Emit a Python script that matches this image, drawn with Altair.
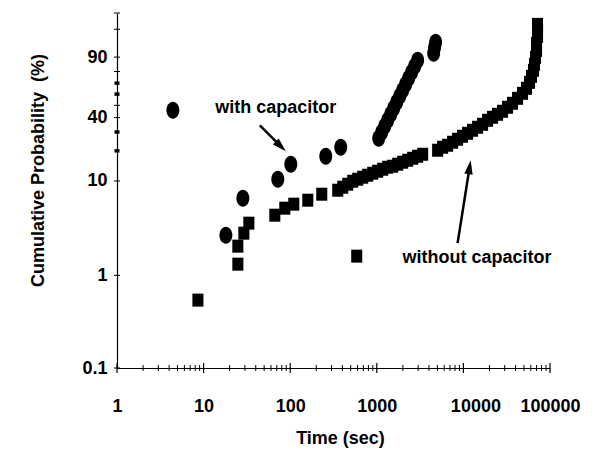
import math
import altair as alt
import pandas as pd

# ---------------- data ----------------
# "with capacitor" (ellipse markers)
with_time = [4.42, 18.08, 28.4, 71.9, 101.6, 257.4, 383.3,
             1052, 1139, 1234, 1336, 1447, 1567, 1697, 1837, 1990, 2154, 2333, 2526, 2736, 2963,
             4779, 4655, 4533]
with_prob = [45.8, 2.69, 6.63, 10.42, 14.78, 17.72, 21.66,
             26.31, 29.84, 33.73, 37.98, 42.56, 47.47, 52.64, 58.01, 63.49, 68.95, 74.28, 79.33, 83.96, 88.06,
             96.40, 94.69, 92.03]

# "without capacitor" (square markers)
without_time = [8.60, 24.86, 24.86, 29.16, 33.31, 66.43, 86.63, 110.0, 159.6, 231.5, 586.5,
                354.0, 404.3, 461.7, 527.2, 602.0, 687.6, 785.2, 896.7, 1024, 1170, 1336, 1525,
                1742, 1990, 2272, 2595, 2963, 3384,
                5040, 5756, 6574, 7506, 8573, 9790, 11180, 12770, 14580, 16660, 19020, 21720,
                24800, 28320, 32350, 36940, 42190, 48180, 53580, 58020, 61180, 64520, 66250,
                68050, 69880, 69880, 71760, 71760, 71760]
without_prob = [0.541, 1.319, 2.058, 2.832, 3.618, 4.396, 5.212, 5.742, 6.321, 7.299, 1.608,
                8.031, 8.625, 9.264, 9.941, 10.42, 10.93, 11.45, 12.00, 12.57, 13.17, 13.79, 14.11,
                14.78, 15.47, 16.19, 16.94, 17.72, 18.53,
                20.27, 21.65, 22.62, 24.15, 25.75, 27.44, 29.23, 31.10, 33.06, 35.10, 37.98, 40.23,
                42.56, 44.99, 48.32, 51.77, 56.21, 60.74, 65.32, 70.75, 76.00, 80.93, 85.40,
                89.87, 93.44, 96.10, 97.89, 98.87, 99.45]

# axis ticks / labels
y_label_values = [0.1, 1, 10, 40, 90]
y_tick_values = [0.1, 1, 10, 40, 50, 80, 90, 99, 99.9]
y_thick_ticks = [20, 30, 60, 70]
x_label_values = [1, 10, 100, 1000, 10000, 100000]
x_decades = [1, 10, 100, 1000, 10000]
x_minor_ticks = [m * d for d in x_decades for m in range(2, 10)]

# annotations
annot_text = ["with capacitor", "without capacitor"]
annot_time = [68.2, 14390]
annot_prob = [47.5, 1.53]

arrow_tail_time = [44.6, 8570]
arrow_tail_prob = [34.41, 2.215]
arrow_head_time = [77.9, 11790]
arrow_head_prob = [22.09, 13.79]

# ---------------- chart ----------------
FONT = "Liberation Sans"
W, H = 433, 355


def wb(p):
    return math.log(-math.log(1 - p / 100.0))


Y_DOMAIN = [wb(0.1), wb(99.9)]
W_EXPR = "log(-log(1 - datum.p / 100))"

xscale = alt.Scale(type="log", domain=[1, 100000], nice=False)
yscale = alt.Scale(domain=Y_DOMAIN, nice=False, zero=False)

xaxis = alt.Axis(
    values=x_label_values, format="d", title="Time (sec)", ticks=False, tickSize=0, grid=False,
    domainColor="black", domainWidth=1.2,
    labelFont=FONT, labelFontSize=18, labelFontWeight="bold", labelColor="black",
    labelPadding=29, labelFlush=False, labelOverlap=False,
    labelOffset={"condition": {"test": "datum.value == 10000", "value": 12}, "value": 0},
    titleFont=FONT, titleFontSize=18, titleFontWeight="bold", titleColor="black",
    titleX=223, titleY=70, titleBaseline="middle", titleAlign="center",
)
yaxis = alt.Axis(
    values=[wb(p) for p in y_label_values],
    labelExpr="format(100 * (1 - exp(-exp(datum.value))), '.1~f')",
    title="Cumulative Probability\u00a0 (%)", ticks=False, tickSize=0, grid=False,
    domainColor="black", domainWidth=1.2,
    labelFont=FONT, labelFontSize=18, labelFontWeight="bold", labelColor="black",
    labelPadding=10, labelFlush=False, labelOverlap=False,
    titleFont=FONT, titleFontSize=18, titleFontWeight="bold", titleColor="black",
    titleX=-79, titleY=157, titleAngle=-90, titleBaseline="middle", titleAlign="center",
)


def xenc(field="t"):
    return alt.X(f"{field}:Q", scale=xscale, axis=xaxis)


def yenc(field="w"):
    return alt.Y(f"{field}:Q", scale=yscale, axis=yaxis)


sq_df = pd.DataFrame({"t": without_time, "p": without_prob})
ci_df = pd.DataFrame({"t": with_time, "p": with_prob})

SQUARE = "M -0.85 -1 L 0.85 -1 L 0.85 1 L -0.85 1 Z"
ELLIPSE = "M -0.76 0 A 0.76 1 0 1 0 0.76 0 A 0.76 1 0 1 0 -0.76 0 Z"
HEAD = "M 0 -1 L 0.6 1 L -0.6 1 Z"

squares = alt.Chart(sq_df).transform_calculate(w=W_EXPR).mark_point(
    shape=SQUARE, filled=True, color="black", opacity=1, size=169, strokeWidth=0
).encode(x=xenc(), y=yenc())

circles = alt.Chart(ci_df).transform_calculate(w=W_EXPR).mark_point(
    shape=ELLIPSE, filled=True, color="black", opacity=1, size=289, strokeWidth=0
).encode(x=xenc(), y=yenc())

# axis ticks crossing the axis lines
ytick = alt.Chart(pd.DataFrame({"p": y_tick_values})).transform_calculate(w=W_EXPR).mark_rule(
    color="black", strokeWidth=1
).encode(y=yenc(), x=alt.value(-3), x2=alt.value(3))
ythick = alt.Chart(pd.DataFrame({"p": y_thick_ticks})).transform_calculate(w=W_EXPR).mark_rule(
    color="black", strokeWidth=3.5
).encode(y=yenc(), x=alt.value(-2.5), x2=alt.value(2.5))
xminor = alt.Chart(pd.DataFrame({"t": x_minor_ticks})).mark_rule(
    color="black", strokeWidth=1
).encode(x=xenc(), y=alt.value(H - 3), y2=alt.value(H + 3))
xmajor = alt.Chart(pd.DataFrame({"t": x_label_values})).mark_rule(
    color="black", strokeWidth=1.2
).encode(x=xenc(), y=alt.value(H - 5), y2=alt.value(H + 5))

annots = alt.Chart(pd.DataFrame({"t": annot_time, "p": annot_prob, "label": annot_text})).transform_calculate(
    w=W_EXPR
).mark_text(font=FONT, fontSize=18, fontWeight="bold", color="black", align="center", baseline="middle").encode(
    x=xenc(), y=yenc(), text="label:N"
)

arr_df = pd.DataFrame({"t": arrow_tail_time, "p": arrow_tail_prob,
                       "t2": arrow_head_time, "p2": arrow_head_prob})
arrow_lines = alt.Chart(arr_df).transform_calculate(
    w=W_EXPR, w2="log(-log(1 - datum.p2 / 100))"
).mark_rule(color="black", strokeWidth=2.5).encode(
    x=xenc(), y=yenc(), x2="t2:Q", y2="w2:Q"
)

head_df = pd.DataFrame({"t": arrow_head_time, "p": arrow_head_prob})
head1 = alt.Chart(head_df.iloc[[0]]).transform_calculate(w=W_EXPR).mark_point(
    shape=HEAD, filled=True, color="black", opacity=1, size=196, strokeWidth=0
).encode(x=xenc(), y=yenc(), angle=alt.value(134))
head2 = alt.Chart(head_df.iloc[[1]]).transform_calculate(w=W_EXPR).mark_point(
    shape=HEAD, filled=True, color="black", opacity=1, size=196, strokeWidth=0
).encode(x=xenc(), y=yenc(), angle=alt.value(9))

chart = alt.layer(
    ytick, ythick, xminor, xmajor, squares, circles, annots, arrow_lines, head1, head2
).properties(
    width=W, height=H,
    autosize=alt.AutoSizeParams(type="none"),
    padding={"left": 117, "top": 13, "right": 46, "bottom": 88},
    background="white",
).configure_view(stroke=None)

chart.save("out.html", embed_options={"renderer": "svg", "actions": False})
